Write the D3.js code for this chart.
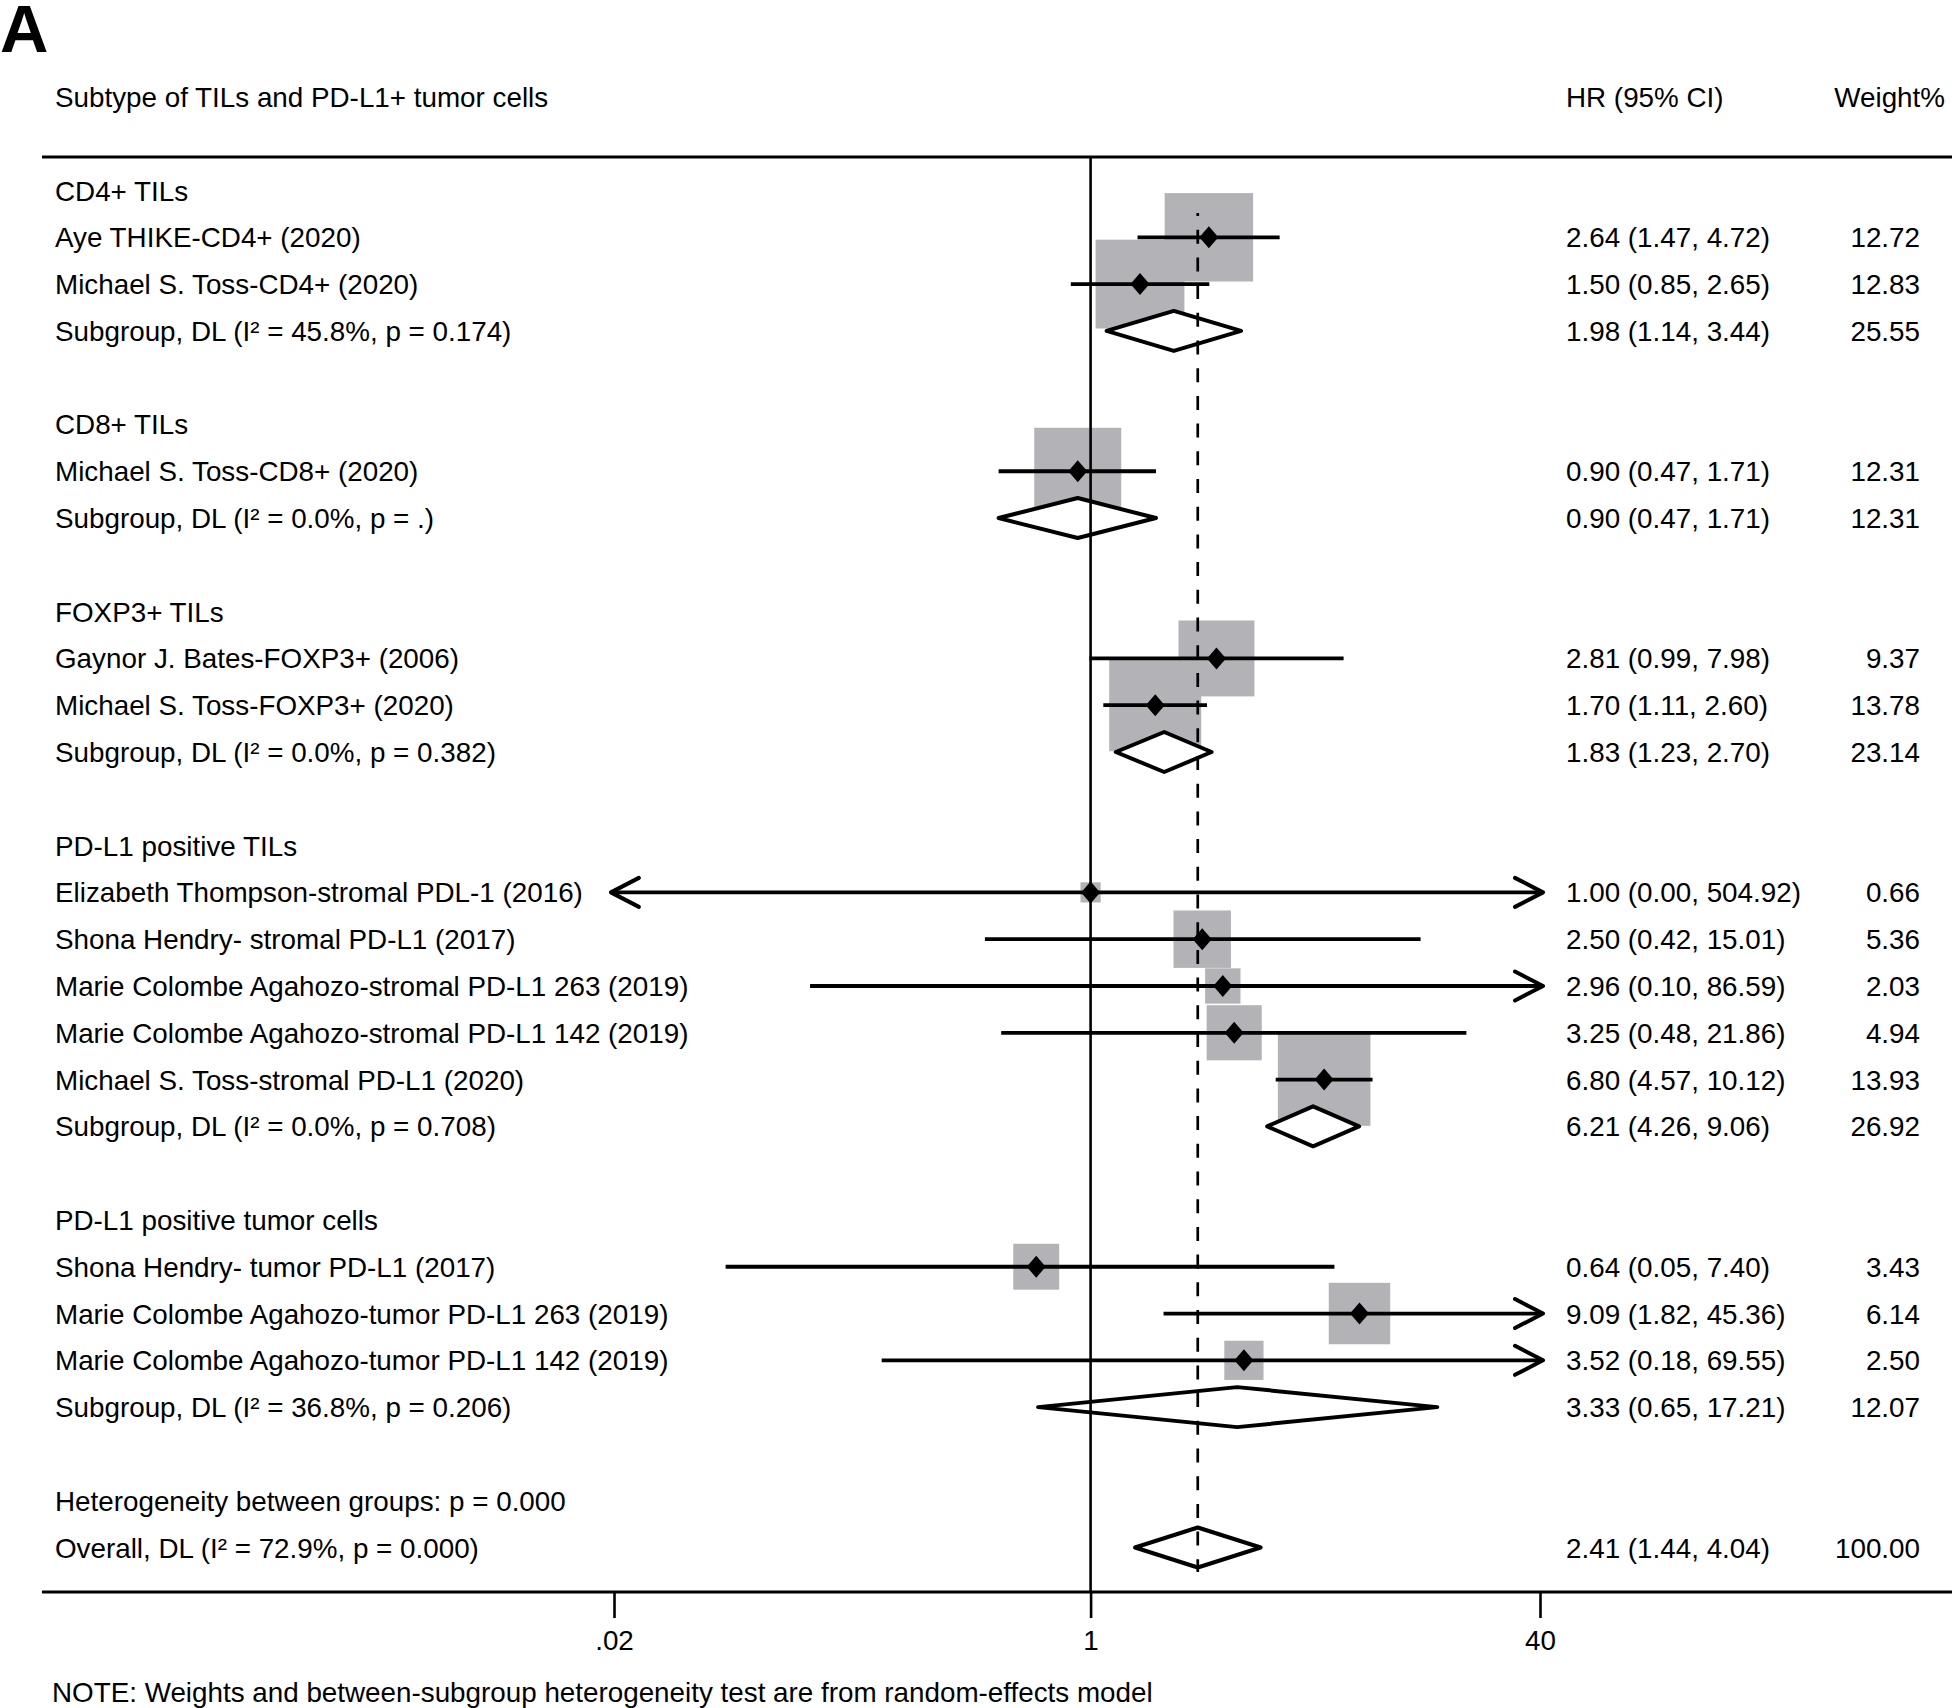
<!DOCTYPE html>
<html>
<head>
<meta charset="utf-8">
<script src="https://cdn.jsdelivr.net/npm/d3@7"></script>
<style>
  html, body { margin: 0; padding: 0; background: #fff; }
  svg text { font-family: "Liberation Sans", Arial, Helvetica, sans-serif; fill: #000; }
</style>
</head>
<body>
<svg id="chart" width="1952" height="1708"></svg>
<script>
// ---------------- DATA ----------------
const rowLabels = [
  "CD4+ TILs",
  "Aye THIKE-CD4+ (2020)",
  "Michael S. Toss-CD4+ (2020)",
  "Subgroup, DL (I\u00b2 = 45.8%, p = 0.174)",
  "",
  "CD8+ TILs",
  "Michael S. Toss-CD8+ (2020)",
  "Subgroup, DL (I\u00b2 = 0.0%, p = .)",
  "",
  "FOXP3+ TILs",
  "Gaynor J. Bates-FOXP3+ (2006)",
  "Michael S. Toss-FOXP3+ (2020)",
  "Subgroup, DL (I\u00b2 = 0.0%, p = 0.382)",
  "",
  "PD-L1 positive TILs",
  "Elizabeth Thompson-stromal PDL-1 (2016)",
  "Shona Hendry- stromal PD-L1 (2017)",
  "Marie Colombe Agahozo-stromal PD-L1 263 (2019)",
  "Marie Colombe Agahozo-stromal PD-L1 142 (2019)",
  "Michael S. Toss-stromal PD-L1 (2020)",
  "Subgroup, DL (I\u00b2 = 0.0%, p = 0.708)",
  "",
  "PD-L1 positive tumor cells",
  "Shona Hendry- tumor PD-L1 (2017)",
  "Marie Colombe Agahozo-tumor PD-L1 263 (2019)",
  "Marie Colombe Agahozo-tumor PD-L1 142 (2019)",
  "Subgroup, DL (I\u00b2 = 36.8%, p = 0.206)",
  "",
  "Heterogeneity between groups: p = 0.000",
  "Overall, DL (I\u00b2 = 72.9%, p = 0.000)"
];
const rowKinds = [
  "group","study","study","subgroup","blank",
  "group","study","subgroup","blank",
  "group","study","study","subgroup","blank",
  "group","study","study","study","study","study","subgroup","blank",
  "group","study","study","study","subgroup","blank",
  "text","overall"
];
const hrEst = [
  null, 2.64, 1.50, 1.98, null,
  null, 0.90, 0.90, null,
  null, 2.81, 1.70, 1.83, null,
  null, 1.00, 2.50, 2.96, 3.25, 6.80, 6.21, null,
  null, 0.64, 9.09, 3.52, 3.33, null,
  null, 2.41
];
const ciLow = [
  null, 1.47, 0.85, 1.14, null,
  null, 0.47, 0.47, null,
  null, 0.99, 1.11, 1.23, null,
  null, 0.00, 0.42, 0.10, 0.48, 4.57, 4.26, null,
  null, 0.05, 1.82, 0.18, 0.65, null,
  null, 1.44
];
const ciHigh = [
  null, 4.72, 2.65, 3.44, null,
  null, 1.71, 1.71, null,
  null, 7.98, 2.60, 2.70, null,
  null, 504.92, 15.01, 86.59, 21.86, 10.12, 9.06, null,
  null, 7.40, 45.36, 69.55, 17.21, null,
  null, 4.04
];
const weights = [
  null, 12.72, 12.83, 25.55, null,
  null, 12.31, 12.31, null,
  null, 9.37, 13.78, 23.14, null,
  null, 0.66, 5.36, 2.03, 4.94, 13.93, 26.92, null,
  null, 3.43, 6.14, 2.50, 12.07, null,
  null, 100.00
];
const overallHR = 2.41;
const tickValues = [0.02, 1, 40];
const tickLabels = [".02", "1", "40"];
const headerLeft = "Subtype of TILs and PD-L1+ tumor cells";
const headerHR = "HR (95% CI)";
const headerW = "Weight%";
const panelLetter = "A";
const noteText = "NOTE: Weights and between-subgroup heterogeneity test are from random-effects model";

// ---------------- LAYOUT ----------------
const svg = d3.select("#chart");
const FS = 27.8;
const x = d3.scaleLog().domain([0.02, 40]).range([614, 1540]);
const clipMin = 0.0195, clipMax = 41;
const y = d3.scaleLinear().domain([0, rowLabels.length - 1]).range([190.5, 1547.5]);
const side = d3.scaleSqrt().domain([0, 100]).range([0, 248]);
const fmt = d3.format(".2f");
const topLineY = 157, botLineY = 1592;

// panel letter
svg.append("text").attr("x", 0).attr("y", 52)
  .attr("font-size", 67).attr("font-weight", "bold").text(panelLetter);

// headers
svg.append("text").attr("x", 55).attr("y", 107).attr("font-size", FS).text(headerLeft);
svg.append("text").attr("x", 1566).attr("y", 107).attr("font-size", FS).text(headerHR);
svg.append("text").attr("x", 1945).attr("y", 107).attr("font-size", FS)
  .attr("text-anchor", "end").text(headerW);

// horizontal rules
svg.append("line").attr("x1", 42).attr("x2", 1952).attr("y1", topLineY).attr("y2", topLineY)
  .attr("stroke", "#000").attr("stroke-width", 3);
svg.append("line").attr("x1", 42).attr("x2", 1952).attr("y1", botLineY).attr("y2", botLineY)
  .attr("stroke", "#000").attr("stroke-width", 3);

const rows = rowLabels.map((label, i) => ({
  i, label, kind: rowKinds[i], hr: hrEst[i], lo: ciLow[i], hi: ciHigh[i], w: weights[i]
}));
const studies = rows.filter(d => d.kind === "study");
const pooled = rows.filter(d => d.kind === "subgroup" || d.kind === "overall");

// weight boxes
svg.append("g").selectAll("rect").data(studies).join("rect")
  .attr("x", d => x(d.hr) - side(d.w) / 2)
  .attr("y", d => y(d.i) - side(d.w) / 2)
  .attr("width", d => side(d.w))
  .attr("height", d => side(d.w))
  .attr("fill", "#b3b2b6");

// pooled diamonds
const dh = 20;
svg.append("g").selectAll("path").data(pooled).join("path")
  .attr("d", d => {
    const cy = y(d.i);
    return `M${x(d.lo)},${cy} L${x(d.hr)},${cy - dh} L${x(d.hi)},${cy} L${x(d.hr)},${cy + dh} Z`;
  })
  .attr("fill", "#fff").attr("stroke", "#000").attr("stroke-width", 4)
  .attr("stroke-linejoin", "round");

// reference line at 1
svg.append("line").attr("x1", x(1)).attr("x2", x(1)).attr("y1", topLineY).attr("y2", botLineY)
  .attr("stroke", "#000").attr("stroke-width", 2.6);
// overall dashed line
svg.append("line").attr("x1", x(overallHR)).attr("x2", x(overallHR)).attr("y1", 213).attr("y2", 1572)
  .attr("stroke", "#000").attr("stroke-width", 2.7)
  .attr("stroke-dasharray", "14,13.7").attr("stroke-dashoffset", 11);

// CI lines with arrows
const ciG = svg.append("g");
studies.forEach(d => {
  const cy = y(d.i);
  const loClipped = d.lo < clipMin;
  const hiClipped = d.hi > clipMax;
  const x1 = loClipped ? x(clipMin) : x(d.lo);
  const x2 = hiClipped ? x(clipMax) : x(d.hi);
  ciG.append("line").attr("x1", x1).attr("x2", x2).attr("y1", cy).attr("y2", cy)
    .attr("stroke", "#000").attr("stroke-width", 3.8);
  const al = 28, ah = 14.5;
  if (hiClipped) {
    ciG.append("path").attr("d", `M${x2 - al},${cy - ah} L${x2},${cy} L${x2 - al},${cy + ah}`)
      .attr("fill", "none").attr("stroke", "#000").attr("stroke-width", 4)
      .attr("stroke-linecap", "round").attr("stroke-linejoin", "round");
  }
  if (loClipped) {
    ciG.append("path").attr("d", `M${x1 + al},${cy - ah} L${x1},${cy} L${x1 + al},${cy + ah}`)
      .attr("fill", "none").attr("stroke", "#000").attr("stroke-width", 4)
      .attr("stroke-linecap", "round").attr("stroke-linejoin", "round");
  }
});

// point estimate markers
svg.append("g").selectAll("path").data(studies).join("path")
  .attr("d", d => {
    const cx = x(d.hr), cy = y(d.i), hw = 9.5, hh = 11;
    return `M${cx - hw},${cy} L${cx},${cy - hh} L${cx + hw},${cy} L${cx},${cy + hh} Z`;
  })
  .attr("fill", "#000");

// row labels
svg.append("g").selectAll("text").data(rows.filter(d => d.label)).join("text")
  .attr("x", 55).attr("y", d => y(d.i) + 10).attr("font-size", FS).text(d => d.label);

// HR text and weight text
const numRows = rows.filter(d => d.hr != null);
svg.append("g").selectAll("text").data(numRows).join("text")
  .attr("x", 1566).attr("y", d => y(d.i) + 10).attr("font-size", FS)
  .text(d => `${fmt(d.hr)} (${fmt(d.lo)}, ${fmt(d.hi)})`);
svg.append("g").selectAll("text").data(numRows).join("text")
  .attr("x", 1920).attr("y", d => y(d.i) + 10).attr("font-size", FS)
  .attr("text-anchor", "end").text(d => fmt(d.w));

// x axis
const axis = d3.axisBottom(x).tickValues(tickValues)
  .tickFormat((d, i) => tickLabels[i]).tickSize(26).tickPadding(12);
const ax = svg.append("g").attr("transform", `translate(0,${botLineY})`).call(axis);
ax.select(".domain").remove();
ax.selectAll(".tick line").attr("stroke", "#000").attr("stroke-width", 2.6);
ax.selectAll(".tick text").attr("font-size", FS)
  .attr("font-family", "'Liberation Sans', Arial, Helvetica, sans-serif").attr("fill", "#000");

// note
svg.append("text").attr("x", 52).attr("y", 1702).attr("font-size", FS).text(noteText);
</script>
</body>
</html>
